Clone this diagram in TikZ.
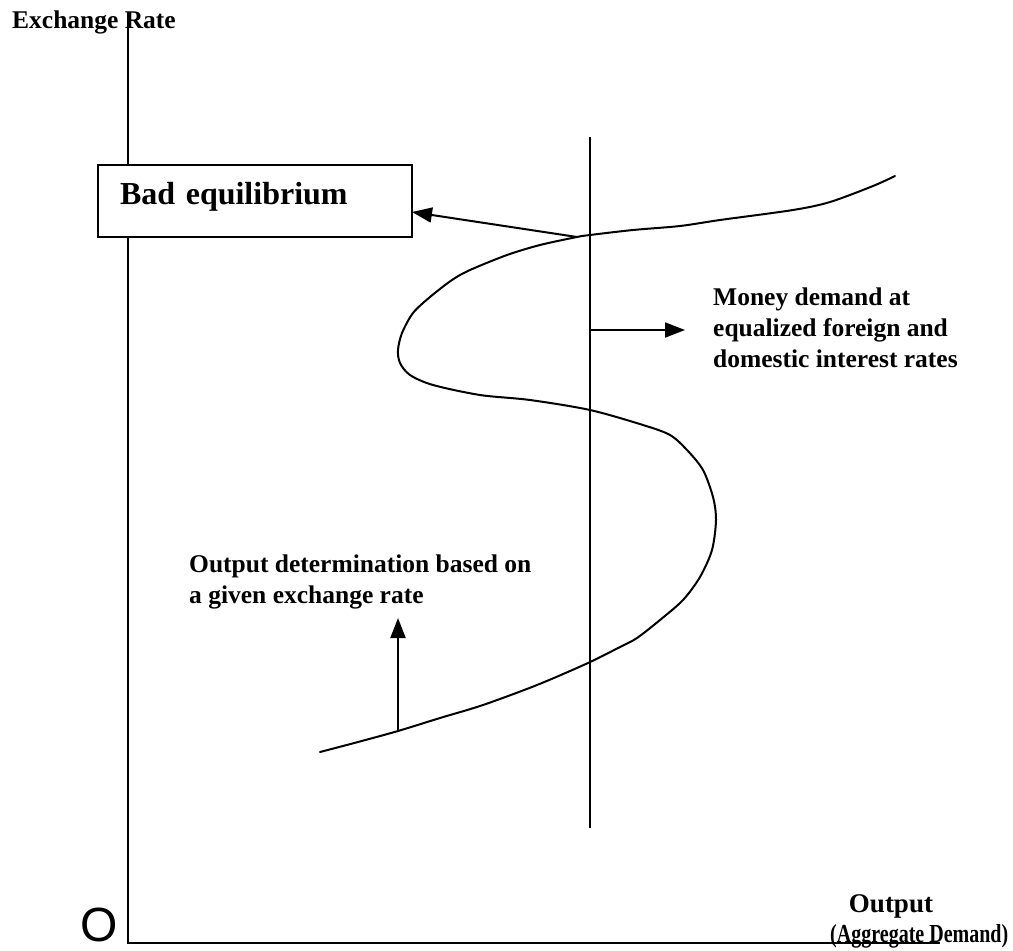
\documentclass[tikz,border=0pt]{standalone}
\usepackage{fontspec}
\setmainfont{Liberation Serif}
\newfontfamily\axisfont{Liberation Sans}
\usetikzlibrary{arrows.meta}
\begin{document}
\begin{tikzpicture}[x=1pt,y=-1pt,
  lbl/.style={font=\fontsize{25.5}{30.7}\selectfont\bfseries, inner sep=0, align=left, anchor=base west},
  ax/.style={line width=2pt},
  conn/.style={line width=2pt, -{Triangle[length=20pt,width=15pt]}},
  curve/.style={line width=2pt, line join=round, line cap=round}]
\useasboundingbox (0,0) rectangle (1013,951);
% axes
\coordinate (ytop) at (128,12);
\coordinate (orig) at (128,943);
\coordinate (xend) at (940,943);
\draw[ax] (ytop) -- (orig) -- (xend);
\node[lbl] (ylab) at (12,28) {Exchange Rate};
\node[inner sep=0, anchor=base west, text depth=0pt, font=\axisfont\fontsize{48}{50}\selectfont] (olab) at (80,941) {O};
\node[inner sep=0, anchor=base, font=\fontsize{27}{30}\selectfont\bfseries] (xlab1) at (891,912) {Output};
\node[inner sep=0, anchor=base west, text depth=0pt, font=\fontsize{26}{30}\selectfont\bfseries] (xlab2) at (830,942) {\scalebox{0.77}[1]{(Aggregate Demand)}};
% vertical money demand line
\coordinate (vtop) at (590,137);
\coordinate (vbot) at (590,828);
\draw[ax] (vtop) -- (vbot);
% curve
\draw[curve] plot[smooth, tension=0.5] coordinates {
 (320,752) (358,742) (398,731) (440,718) (483,705) (537,685) (588,663) (620,647)
 (637,638) (660,620) (683,600) (700,577) (712,550) (716,520) (713,497) (703,470)
 (687,450) (670,435) (643,425) (590,410) (530,400) (480,395) (433,385) (410,375)
 (400,363) (398,350) (402,333) (413,313) (430,297) (452,280) (470,270) (507,255)
 (540,245) (577,237) (590,235) (633,230) (680,226) (720,220) (793,210) (830,202)
 (873,186) (895,176)};
% bad equilibrium box
\node[draw, fill=white, line width=1.5pt, minimum width=314pt, minimum height=72pt, inner sep=0,
      text width=270pt, align=left, text height=25pt, text depth=19pt,
      font=\fontsize{32}{36}\selectfont\bfseries] (bad) at (255,201) {Bad equilibrium};
\coordinate (badpt) at (577,237);
\coordinate (badin) at (412,212);
\draw[conn] (badpt) -- (badin);
% money demand label
\coordinate (mdfoot) at (590,330);
\coordinate (mdtip) at (685,330);
\draw[conn] (mdfoot) -- (mdtip);
\node[lbl] (mdlab) at (713,367) {Money demand at\\equalized foreign and\\domestic interest rates};
% output determination label
\coordinate (odfoot) at (398,731);
\coordinate (odtip) at (398,618);
\draw[conn] (odfoot) -- (odtip);
\node[lbl] (odlab) at (189,603) {Output determination based on\\a given exchange rate};
\end{tikzpicture}
\end{document}
